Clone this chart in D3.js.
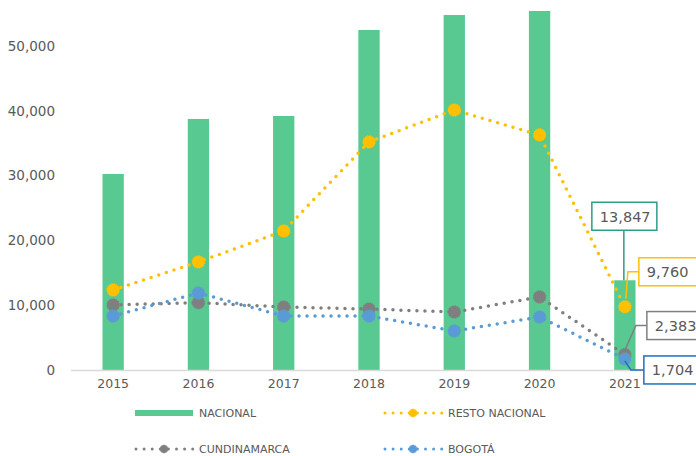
<!DOCTYPE html>
<html><head><meta charset="utf-8">
<script src="https://cdn.jsdelivr.net/npm/d3@7/dist/d3.min.js"></script>
<style>body{margin:0;background:#fff}svg{display:block}text{font-family:"DejaVu Sans",sans-serif;fill:#595959}</style>
</head><body><svg id="c" width="696" height="456"></svg>
<script>
const years = ["2015","2016","2017","2018","2019","2020","2021"];
const nacional = [30250, 38740, 39200, 52470, 54780, 55400, 13847];
const restoNacional = [12350, 16670, 21450, 35190, 40120, 36270, 9760];
const cundinamarca = [10030, 10400, 9720, 9410, 8950, 11270, 2383];
const bogota = [8330, 11880, 8330, 8330, 6020, 8180, 1704];
const yTicks = [0, 10000, 20000, 30000, 40000, 50000];
const seriesNames = ["NACIONAL", "RESTO NACIONAL", "CUNDINAMARCA", "BOGOTÁ"];

const svg = d3.select("#c");
const x = d3.scaleBand().domain(years).range([70.5, 667.5]).paddingInner(0.75).paddingOuter(0.375);
const y = d3.scaleLinear().domain([0, 50000]).range([370, 46]);
const fmt = d3.format(",");
const cx = d => x(d) + x.bandwidth() / 2;

// y axis labels
const ya = svg.append("g").attr("transform", "translate(55,0)")
  .call(d3.axisLeft(y).tickValues(yTicks).tickFormat(fmt).tickSize(0).tickPadding(0));
ya.select(".domain").remove();
ya.selectAll("text").style("font-size", "13.5px").attr("fill", "#595959").attr("font-family", "DejaVu Sans");

// bars
svg.append("g").selectAll("rect").data(nacional).join("rect")
  .attr("x", (d, i) => x(years[i])).attr("width", x.bandwidth())
  .attr("y", d => y(d)).attr("height", d => y(0) - y(d)).attr("fill", "#58C991");

// x axis
const xa = svg.append("g").attr("transform", "translate(0,370)")
  .call(d3.axisBottom(x).tickSize(0).tickPadding(9));
xa.select(".domain").attr("stroke", "#D9D9D9").attr("stroke-width", 1.5);
xa.selectAll("text").style("font-size", "12.5px").attr("fill", "#595959").attr("font-family", "DejaVu Sans");

function blob(g, px, py, r, color) {
  const n = 16;
  const pts = d3.range(n * 2).map(k => {
    const a = k * Math.PI / n;
    const rr = k % 2 ? r : r * 0.86;
    return [px + rr * Math.cos(a), py + rr * Math.sin(a)];
  });
  g.append("path").attr("d", d3.line()(pts) + "Z").attr("fill", color);
}

const lines = [
  {vals: cundinamarca, color: "#7F7F7F"},
  {vals: bogota, color: "#5B9BD5"},
  {vals: restoNacional, color: "#FFC000"}
];
const lineGen = d3.line().x((d, i) => cx(years[i])).y(d => y(d));
lines.forEach(s => {
  const g = svg.append("g");
  g.append("path").attr("d", lineGen(s.vals)).attr("fill", "none").attr("stroke", s.color)
    .attr("stroke-width", 3.5).attr("stroke-linecap", "round").attr("stroke-dasharray", "0 8");
  s.vals.forEach((v, i) => blob(g, cx(years[i]), y(v), 7, s.color));
});

// data labels for last year
const last = years.length - 1;
const lx = cx(years[last]);
function label(val, color, bx, by, bw, leader) {
  svg.append("path").attr("d", d3.line()(leader)).attr("fill", "none").attr("stroke", color).attr("stroke-width", 1.5);
  svg.append("rect").attr("x", bx).attr("y", by).attr("width", bw).attr("height", 28)
    .attr("fill", "#fff").attr("stroke", color).attr("stroke-width", 1.5);
  svg.append("text").attr("x", bx + 8).attr("y", by + 19.5).text(fmt(val))
    .style("font-size", "14.5px").attr("fill", "#404040");
}
const yN = y(nacional[last]), yR = y(restoNacional[last]), yC = y(cundinamarca[last]), yB = y(bogota[last]);
label(nacional[last], "#2E9C86", lx - 33, yN - 78, 65, [[lx - 1, yN - 50], [lx - 1, yN]]);
label(restoNacional[last], "#FFC000", lx + 14, yR - 49, 62, [[lx + 14, yR - 35], [lx + 3, yR - 35], [lx + 1, yR - 8]]);
label(cundinamarca[last], "#7F7F7F", lx + 22, yC - 43, 60, [[lx + 22, yC - 29], [lx + 11, yC - 29], [lx - 1, yC - 2]]);
label(bogota[last], "#1F6FBF", lx + 19, yB - 3, 60, [[lx + 19, yB + 11], [lx + 6, yB + 11], [lx, yB + 2]]);

// legend
const lg = svg.append("g");
const legendItems = [
  {name: seriesNames[0], color: "#58C991", type: "bar", x: 135, y: 413},
  {name: seriesNames[1], color: "#FFC000", type: "line", x: 384, y: 413},
  {name: seriesNames[2], color: "#7F7F7F", type: "line", x: 135, y: 449},
  {name: seriesNames[3], color: "#5B9BD5", type: "line", x: 384, y: 449}
];
legendItems.forEach(it => {
  if (it.type === "bar") {
    lg.append("rect").attr("x", it.x).attr("y", it.y - 3).attr("width", 58).attr("height", 6).attr("fill", it.color);
  } else {
    lg.append("line").attr("x1", it.x + 1).attr("x2", it.x + 58).attr("y1", it.y).attr("y2", it.y)
      .attr("stroke", it.color).attr("stroke-width", 3).attr("stroke-linecap", "round").attr("stroke-dasharray", "0 8.1");
    blob(lg, it.x + 29, it.y, 4.5, it.color);
  }
  lg.append("text").attr("x", it.x + 64).attr("y", it.y + 4).text(it.name).style("font-size", "11px").attr("fill", "#595959");
});
</script></body></html>
